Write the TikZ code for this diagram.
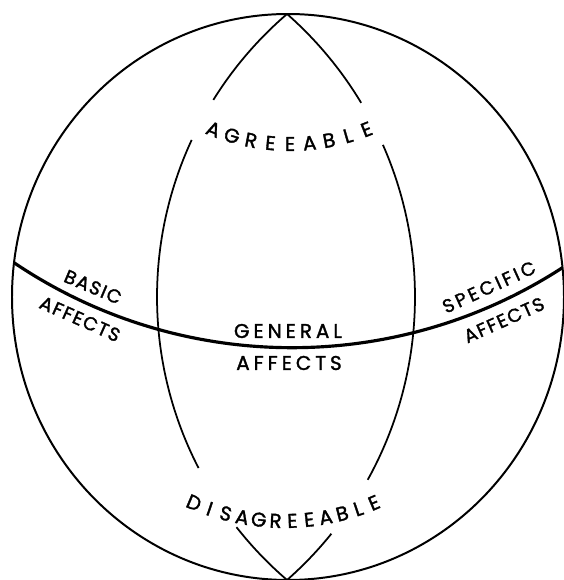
\documentclass[tikz,border=0pt]{standalone}
\usepackage{fontspec}
\newfontfamily\capsfont[LetterSpace=20, FakeBold=1.6]{Poppins}
\newfontfamily\sidecapsfont[LetterSpace=8, FakeBold=1.6]{Poppins}
\usetikzlibrary{positioning}

\begin{document}
\begin{tikzpicture}[
  x=0.03cm, y=0.03cm,
  rim/.style={line width=1.7pt},
  meridian/.style={line width=1.5pt},
  equator/.style={line width=2.7pt},
  lbl/.style={font=\capsfont\fontsize{17}{20}\selectfont, inner sep=0pt},
  sidelbl/.style={font=\sidecapsfont\fontsize{16}{20}\selectfont, inner sep=0pt},
  letter/.style={font=\capsfont\fontsize{17}{20}\selectfont, inner sep=0pt}
]
  \useasboundingbox (0,0) rectangle (564,580);

  % outline of the sphere
  \draw[rim] (288,283) ellipse [x radius=276, y radius=283];

  % left meridian, broken where the labels sit
  \draw[meridian] ([shift={(530,283)}]130.6:373) arc[start angle=130.6, end angle=148.1, radius=373];
  \draw[meridian] ([shift={(530,283)}]155.1:373) arc[start angle=155.1, end angle=207.3, radius=373];
  \draw[meridian] ([shift={(530,283)}]218.1:373) arc[start angle=218.1, end angle=229.4, radius=373];

  % right meridian
  \draw[meridian] ([shift={(38,283)}]48.6:377) arc[start angle=48.6, end angle=31.0, radius=377];
  \draw[meridian] ([shift={(38,283)}]23.8:377) arc[start angle=23.8, end angle=-29.0, radius=377];
  \draw[meridian] ([shift={(38,283)}]-38.9:377) arc[start angle=-38.9, end angle=-48.6, radius=377];

  % equator
  \begin{scope}
    \clip (288,283) ellipse [x radius=276, y radius=283];
    \draw[equator] ([shift={(292,729.3)}]232:497) arc[start angle=232, end angle=308, radius=497];
  \end{scope}

  % labels along the equator
  \node[sidelbl, rotate=-23] (basic) at (93,293) {BASIC};
  \node[sidelbl, rotate=-24] (affbasic) at (80,261) {AFFECTS};
  \node[lbl] (general) at (288,249) {GENERAL};
  \node[lbl] (affgeneral) at (289,217) {AFFECTS};
  \node[sidelbl, rotate=24.5] (specific) at (489,293) {\addfontfeature{LetterSpace=16}SPECIFIC};
  \node[sidelbl, rotate=24] (affspecific) at (504,260) {AFFECTS};

  % curved labels at the poles
  \foreach \ch [count=\i, evaluate=\i as \tilt using (\i-5)*5.4] in {A,G,R,E,E,A,B,L,E}
    \node[letter, rotate=\tilt] (agr\i) at ([shift={(290,644)}]270+\tilt:208) {\ch};
  \foreach \ch [count=\i, evaluate=\i as \tilt using (\i-6.5)*4.15] in {D,I,S,A,G,R,E,E,A,B,L,E}
    \node[letter, rotate=\tilt] (dis\i) at ([shift={(284,291)}]270+\tilt:232) {\ch};
\end{tikzpicture}
\end{document}
